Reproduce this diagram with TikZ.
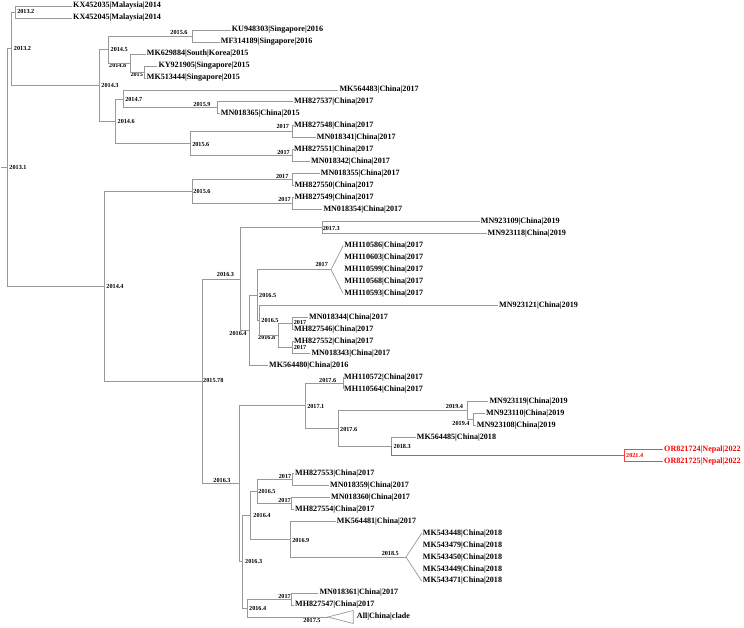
\documentclass[tikz,border=0pt]{standalone}
\usepackage{fontspec}
\setmainfont{Liberation Serif}
\usepackage{tikz}
\usetikzlibrary{calc}
\tikzset{
  brline/.style={draw=black!40, line width=0.7pt},
  redline/.style={draw=red!75, line width=0.7pt},
  tip/.style={anchor=west, inner sep=1pt, font=\fontsize{8.1}{9}\selectfont\bfseries},
  tipred/.style={tip, text=red},
  datelab/.style={inner sep=0pt, font=\fontsize{6.2}{7}\selectfont\bfseries},
}

\begin{document}
\begin{tikzpicture}[x=1pt, y=-1pt]
\useasboundingbox (0,0) rectangle (744,627);

% tips: name / x / row / rest of the text
\foreach \id/\x/\r/\txt in {
  KX452035/73/0/Malaysia|2014, KX452045/73/1/Malaysia|2014,
  KU948303/231.7/2/Singapore|2016, MF314189/220.7/3/Singapore|2016,
  MK629884/146.7/4/South|Korea|2015, KY921905/158.3/5/Singapore|2015,
  MK513444/146.7/6/Singapore|2015, MK564483/339.3/7/China|2017,
  MH827537/294/8/China|2017, MN018365/220.7/9/China|2015,
  MH827548/294/10/China|2017, MN018341/316.7/11/China|2017,
  MH827551/294/12/China|2017, MN018342/311/13/China|2017,
  MN018355/320.7/14/China|2017, MH827550/294.3/15/China|2017,
  MH827549/294.3/16/China|2017, MN018354/323.3/17/China|2017,
  MN923109/480.7/18/China|2019, MN923118/487.5/19/China|2019,
  MH110586/344.2/20/China|2017, MH110603/344.2/21/China|2017,
  MH110599/344.2/22/China|2017, MH110568/344.2/23/China|2017,
  MH110593/344.2/24/China|2017, MN923121/499/25/China|2019,
  MN018344/309/26/China|2017, MH827546/294/27/China|2017,
  MH827552/294/28/China|2017, MN018343/311.3/29/China|2017,
  MK564480/269/30/China|2016, MH110572/344/31/China|2017,
  MH110564/344/32/China|2017, MN923119/489.3/33/China|2019,
  MN923110/486/34/China|2019, MN923108/476.7/35/China|2019,
  MK564485/416.7/36/China|2018,
  MH827553/295/39/China|2017, MN018359/330/40/China|2017,
  MN018360/331/41/China|2017, MH827554/295/42/China|2017,
  MK564481/336.7/43/China|2017, MK543448/422.7/44/China|2018,
  MK543479/422.7/45/China|2018, MK543450/422.7/46/China|2018,
  MK543449/422.7/47/China|2018, MK543471/422.7/48/China|2018,
  MN018361/319.3/49/China|2017, MH827547/295/50/China|2017,
  All/356.7/51/China|clade}
  \node[tip] (\id) at ({\x-1},{6+11.98*\r}) {\id|\txt};
\node[tipred] (OR821724) at (663,449.26) {OR821724|Nepal|2022};
\node[tipred] (OR821725) at (663,461.24) {OR821725|Nepal|2022};

% inner nodes: name / x / y / label x / label y / label
\foreach \id/\x/\y/\lx/\ly/\lab in {
  root/7.5/167.6/18/167.3/2013.1, nAsia/11.5/48.7/22.5/48.3/2013.2,
  nMal/15.5/12/25.8/11.7/2013.2, n143/99.8/85.4/110/85/2014.3,
  n145/108.8/49.4/119.2/49.3/2014.5, n156a/192.4/36/179/32.3/2015.6,
  n148/130.6/62.9/117.7/65.3/2014.8, n150/144.4/71.9/136.7/74.3/2015,
  n146/115.4/121.3/126.2/121/2014.6, n147/123/98.9/133.8/99/2014.7,
  n159/217.6/107.8/202/104/2015.9, n156b/190/143.8/200.8/144/2015.6,
  n17a/292.5/131.8/282.8/126.7/2017, n17b/292.5/155.8/283.5/152.3/2017,
  n144/104/286.5/115/286/2014.4, n156c/192/191.7/202/191/2015.6,
  n17c/292.5/179.7/282.2/176/2017, n17d/292.5/203.7/284.5/199.6/2017,
  n1578/202/381.3/213.3/380.7/2015.78, n163a/240.5/278.9/225.5/274.3/2016.3,
  n173/322/227.6/331.3/228.3/2017.3, n164a/249.8/330.2/238/333.3/2016.4,
  n165a/257.5/295/267.7/295/2016.5, n17e/331/269.6/321.7/264/2017,
  n165b/259.4/320.5/270/320.3/2016.5, n168/278.6/335.5/266.7/337.7/2016.8,
  n17f/292.6/323.5/300/322.3/2017, n17g/292.6/347.4/300/347.3/2017,
  n163b/239.3/483.7/222/480.7/2016.3, n171/305/405.8/315.8/406/2017.1,
  n176a/343/383.4/327.7/380.7/2017.6, n176b/338.3/428.3/348.7/429/2017.6,
  n194a/467.5/410.3/454.5/406.7/2019.4, n194b/473.8/419.3/461/423.5/2019.4,
  n183/391.7/446.3/402.2/446.5/2018.3, n163c/242.8/561.6/253.7/561.7/2016.3,
  n164b/250.8/515.2/262/515.7/2016.4, n165c/257.5/491.2/267/491.5/2016.5,
  n17i/292.3/479.2/285/476.7/2017, n17j/291.7/503.2/284.5/500.7/2017,
  n169/290.7/539.1/300.8/540/2016.9, n185/406/557.1/390.3/553.3/2018.5,
  n164c/247.5/608/257.7/608.3/2016.4, n17h/291.7/599/284.5/596/2017,
  n175/327.8/617/312/620.7/2017.5}
  {
  \coordinate (\id) at (\x,\y);
  \node[datelab] (\id-lab) at (\lx,\ly) {\lab};
  }
\coordinate (n214) at (624,455.3);
\node[datelab, text=red] (n214-lab) at (634.7,455.7) {2021.4};
\coordinate (stem) at (0.5,167.6);

% branches
\draw[brline] (stem) -- (root);
\foreach \p/\c in {
  root/nAsia, root/n144, nAsia/nMal, nAsia/n143,
  nMal/KX452035, nMal/KX452045, n143/n145, n143/n146,
  n145/n156a, n145/n148, n156a/KU948303, n156a/MF314189,
  n148/MK629884, n148/n150, n150/KY921905, n150/MK513444,
  n146/n147, n146/n156b, n147/MK564483, n147/n159,
  n159/MH827537, n159/MN018365, n156b/n17a, n156b/n17b,
  n17a/MH827548, n17a/MN018341, n17b/MH827551, n17b/MN018342,
  n144/n156c, n144/n1578, n156c/n17c, n156c/n17d,
  n17c/MN018355, n17c/MH827550, n17d/MH827549, n17d/MN018354,
  n1578/n163a, n1578/n163b, n163a/n173, n163a/n164a,
  n173/MN923109, n173/MN923118, n164a/n165a, n164a/MK564480,
  n165a/n17e, n165a/n165b, n165b/MN923121, n165b/n168,
  n168/n17f, n168/n17g, n17f/MN018344, n17f/MH827546,
  n17g/MH827552, n17g/MN018343, n163b/n171, n163b/n163c,
  n171/n176a, n171/n176b, n176a/MH110572, n176a/MH110564,
  n176b/n194a, n176b/n183, n194a/MN923119, n194a/n194b,
  n194b/MN923110, n194b/MN923108, n183/MK564485,
  n163c/n164b, n163c/n164c, n164b/n165c, n164b/n169,
  n165c/n17i, n165c/n17j, n17i/MH827553, n17i/MN018359,
  n17j/MN018360, n17j/MH827554, n169/MK564481, n169/n185,
  n164c/n17h, n164c/n175, n17h/MN018361, n17h/MH827547}
  \draw[brline] (\p) |- (\c);

% Nepal lineage
\draw[redline] (n183) |- (n214);
\draw[redline] (n214) |- (OR821724);
\draw[redline] (n214) |- (OR821725);

% collapsed clades
\draw[brline] (MH110586.west) -- (n17e) -- (MH110593.west);
\draw[brline] (MK543448.west) -- (n185) -- (MK543471.west);
\draw[brline] (n175) -- ([xshift=-2.5pt,yshift=6.5pt]All.west)
  -- ([xshift=-2.5pt,yshift=-6.5pt]All.west) -- cycle;
\end{tikzpicture}
\end{document}
